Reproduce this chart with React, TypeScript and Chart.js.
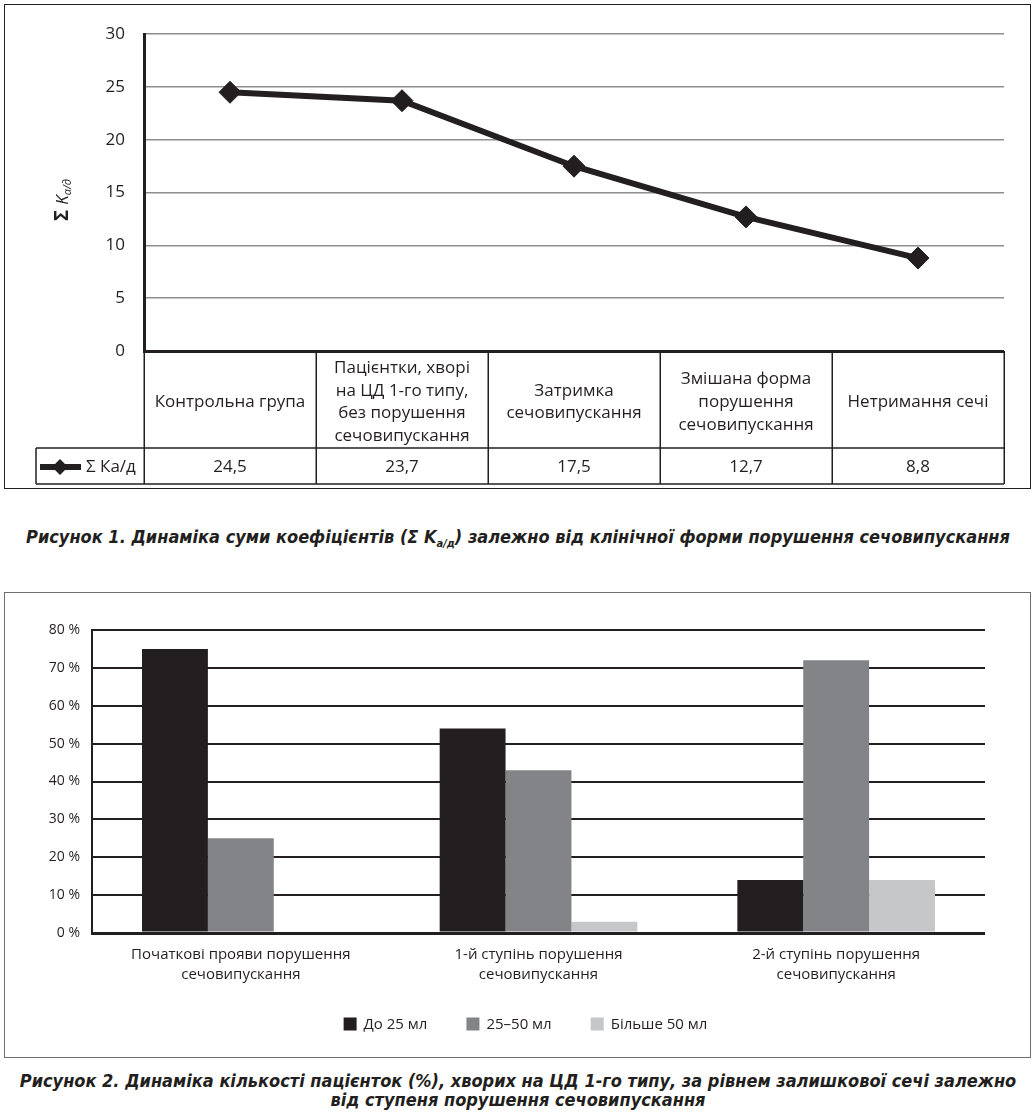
import React, { useEffect, useRef } from "react";
import { Chart, registerables } from "chart.js";

Chart.register(...registerables);

// ---------- Figure 1 data ----------
const categories1: string[][] = [
  ["Контрольна група"],
  ["Пацієнтки, хворі", "на ЦД 1-го типу,", "без порушення", "сечовипускання"],
  ["Затримка", "сечовипускання"],
  ["Змішана форма", "порушення", "сечовипускання"],
  ["Нетримання сечі"],
];
const sumKad: number[] = [24.5, 23.7, 17.5, 12.7, 8.8];
const series1Label = "Σ Ка/д";
const yMax1 = 30;
const yStep1 = 5;

// ---------- Figure 2 data ----------
const categories2: string[][] = [
  ["Початкові прояви порушення", "сечовипускання"],
  ["1-й ступінь порушення", "сечовипускання"],
  ["2-й ступінь порушення", "сечовипускання"],
];
const upTo25: number[] = [75, 54, 14];
const from25to50: number[] = [25, 43, 72];
const over50: number[] = [0, 3, 14];
const series2Labels: string[] = ["До 25 мл", "25–50 мл", "Більше 50 мл"];
const yMax2 = 80;
const yStep2 = 10;

const DARK = "#231f20";
const MID = "#838487";
const LIGHT = "#c6c7c8";
const FONT = "'Open Sans', 'Noto Sans', sans-serif";
const CAPTION_FONT = "'DejaVu Sans Condensed', 'Liberation Sans', Arial, sans-serif";

const fmt = (v: number) => String(v).replace(".", ",");

function Figure1() {
  const ref = useRef<HTMLCanvasElement | null>(null);
  useEffect(() => {
    if (!ref.current) return;
    const tablePlugin = {
      id: "table1",
      afterDraw(chart: any) {
        const ctx = chart.ctx as CanvasRenderingContext2D;
        const area = chart.chartArea;
        const xs = chart.scales.x;
        const n = categories1.length;
        const colW = (area.right - area.left) / n;
        const rowTop = area.bottom;
        const rowMid = rowTop + 97;
        const rowBottom = rowMid + 36;
        const legendLeft = 31;
        ctx.save();
        ctx.strokeStyle = DARK;
        ctx.lineWidth = 1.5;
        ctx.beginPath();
        for (let i = 0; i <= n; i++) {
          const x = Math.round(area.left + i * colW) + 0.25;
          ctx.moveTo(x, rowTop);
          ctx.lineTo(x, rowBottom);
        }
        ctx.moveTo(legendLeft, rowMid);
        ctx.lineTo(area.right, rowMid);
        ctx.moveTo(legendLeft, rowBottom);
        ctx.lineTo(area.right, rowBottom);
        ctx.moveTo(legendLeft, rowMid);
        ctx.lineTo(legendLeft, rowBottom);
        ctx.stroke();

        // values row
        ctx.fillStyle = DARK;
        ctx.font = `17px ${FONT}`;
        ctx.textAlign = "center";
        ctx.textBaseline = "middle";
        const cy = (rowMid + rowBottom) / 2 + 1;
        sumKad.forEach((v, i) => {
          ctx.fillText(fmt(v), xs.getPixelForValue(i), cy);
        });

        // legend key
        ctx.lineWidth = 6;
        ctx.beginPath();
        ctx.moveTo(legendLeft + 4, cy);
        ctx.lineTo(legendLeft + 45, cy);
        ctx.stroke();
        const dx = legendLeft + 24;
        const r = 8;
        ctx.beginPath();
        ctx.moveTo(dx - r, cy);
        ctx.lineTo(dx, cy - r);
        ctx.lineTo(dx + r, cy);
        ctx.lineTo(dx, cy + r);
        ctx.closePath();
        ctx.fill();
        ctx.textAlign = "left";
        ctx.fillText(series1Label, legendLeft + 50, cy);

        // y axis title: Σ K a/д (rotated)
        ctx.translate(57, 195);
        ctx.rotate(-Math.PI / 2);
        ctx.textBaseline = "alphabetic";
        const p1 = "Σ ";
        const p2 = "K";
        const p3 = "а/д";
        ctx.font = `bold 19px ${FONT}`;
        const w1 = ctx.measureText(p1).width;
        ctx.font = `italic 17px ${FONT}`;
        const w2 = ctx.measureText(p2).width;
        ctx.font = `italic 11px ${FONT}`;
        const w3 = ctx.measureText(p3).width;
        let x0 = -(w1 + w2 + w3) / 2;
        ctx.font = `bold 19px ${FONT}`;
        ctx.fillText(p1, x0, 6);
        x0 += w1;
        ctx.font = `italic 17px ${FONT}`;
        ctx.fillText(p2, x0, 6);
        x0 += w2;
        ctx.font = `italic 11px ${FONT}`;
        ctx.fillText(p3, x0, 9);
        ctx.restore();
      },
    };

    const chart = new Chart(ref.current, {
      type: "line",
      data: {
        labels: categories1 as any,
        datasets: [
          {
            label: series1Label,
            data: sumKad,
            borderColor: DARK,
            backgroundColor: DARK,
            borderWidth: 6,
            pointStyle: "rectRot",
            pointRadius: 11,
            pointBackgroundColor: DARK,
            pointBorderColor: DARK,
            pointBorderWidth: 1,
            tension: 0,
          },
        ],
      },
      options: {
        animation: false,
        responsive: false,
        events: [],
        layout: { padding: { top: 28, right: 25, left: 0, bottom: 0 } },
        plugins: { legend: { display: false }, tooltip: { enabled: false } },
        scales: {
          x: {
            offset: true,
            grid: { display: false, drawTicks: false },
            border: { display: false },
            ticks: {
              color: DARK,
              font: { family: FONT, size: 17, lineHeight: 1.34 },
              padding: 17,
              maxRotation: 0,
              autoSkip: false,
              crossAlign: "center",
            },
            afterFit: (s: any) => {
              s.height = 136;
            },
          },
          y: {
            min: 0,
            max: yMax1,
            ticks: {
              stepSize: yStep1,
              padding: 19,
              color: DARK,
              font: { family: FONT, size: 17 },
            },
            grid: {
              drawTicks: false,
              color: (c: any) => (c.tick && c.tick.value === 0 ? DARK : "#8e8e8e"),
              lineWidth: (c: any) => (c.tick && c.tick.value === 0 ? 3 : 1.5),
            },
            border: { color: DARK, width: 3 },
            afterFit: (s: any) => {
              s.width = 139;
            },
          },
        },
      },
      plugins: [tablePlugin],
    } as any);
    return () => chart.destroy();
  }, []);
  return (
    <canvas
      ref={ref}
      width={1024}
      height={482}
      style={{ position: "absolute", left: 5, top: 5, width: 1024, height: 482 }}
    />
  );
}

function Figure2() {
  const ref = useRef<HTMLCanvasElement | null>(null);
  useEffect(() => {
    if (!ref.current) return;
    // legend row drawn from the chart's own datasets (labels + colours)
    const legendPlugin = {
      id: "legendRow2",
      afterDraw(chart: any) {
        const ctx = chart.ctx as CanvasRenderingContext2D;
        const box = 13;
        const gapText = 7;
        const gapItem = 39;
        const cy = 431;
        const centerX = 520.5;
        ctx.save();
        ctx.font = `15px ${FONT}`;
        ctx.textBaseline = "middle";
        ctx.textAlign = "left";
        const ds = chart.data.datasets;
        const widths = ds.map((d: any) => box + gapText + ctx.measureText(d.label).width);
        const total = widths.reduce((a: number, b: number) => a + b, 0) + gapItem * (ds.length - 1);
        let x = centerX - total / 2;
        ds.forEach((d: any, i: number) => {
          ctx.fillStyle = d.backgroundColor;
          ctx.fillRect(x, cy - box / 2, box, box);
          ctx.fillStyle = DARK;
          ctx.fillText(d.label, x + box + gapText, cy + 1);
          x += widths[i] + gapItem;
        });
        ctx.restore();
      },
    };
    const chart = new Chart(ref.current, {
      type: "bar",
      data: {
        labels: categories2 as any,
        datasets: [
          { label: series2Labels[0], data: upTo25, backgroundColor: DARK },
          { label: series2Labels[1], data: from25to50, backgroundColor: MID },
          { label: series2Labels[2], data: over50, backgroundColor: LIGHT },
        ],
      },
      options: {
        animation: false,
        responsive: false,
        events: [],
        datasets: { bar: { barPercentage: 1, categoryPercentage: 0.664 } },
        layout: { padding: { top: 37, right: 44, left: 16, bottom: 0 } },
        plugins: {
          tooltip: { enabled: false },
          legend: { display: false },
        },
        scales: {
          x: {
            grid: { display: false, drawTicks: false },
            border: { display: false },
            ticks: {
              color: DARK,
              font: { family: FONT, size: 15, lineHeight: 1.33 },
              padding: 12,
              maxRotation: 0,
              autoSkip: false,
            },
            afterFit: (s: any) => {
              s.height = 123;
            },
          },
          y: {
            min: 0,
            max: yMax2,
            ticks: {
              stepSize: yStep2,
              padding: 12,
              color: DARK,
              font: { family: FONT, size: 14 },
              callback: (v: any) => `${v} %`,
            },
            grid: {
              drawTicks: false,
              color: DARK,
              lineWidth: (c: any) => (c.tick && c.tick.value === 0 ? 3 : 2),
            },
            border: { color: DARK, width: 2 },
            afterFit: (s: any) => {
              s.width = 71;
            },
          },
        },
      },
      plugins: [legendPlugin],
    } as any);
    return () => chart.destroy();
  }, []);
  return (
    <canvas
      ref={ref}
      width={1024}
      height={463}
      style={{ position: "absolute", left: 5, top: 593, width: 1024, height: 463 }}
    />
  );
}

export default function App() {
  const captionStyle: React.CSSProperties = {
    position: "absolute",
    left: 0,
    width: 1036,
    textAlign: "center",
    fontFamily: CAPTION_FONT,
    fontWeight: "bold",
    fontStyle: "italic",
    fontSize: 18,
    lineHeight: "19px",
    color: DARK,
    whiteSpace: "nowrap",
  };
  return (
    <div
      style={{
        position: "absolute",
        left: 0,
        top: 0,
        width: 1036,
        height: 1113,
        background: "#fff",
        overflow: "hidden",
      }}
    >
      <div
        style={{
          position: "absolute",
          left: 4,
          top: 4,
          width: 1027,
          height: 485,
          boxSizing: "border-box",
          border: `1.5px solid ${DARK}`,
        }}
      />
      <Figure1 />
      <div style={{ ...captionStyle, top: 527 }}>
        Рисунок 1. Динаміка суми коефіцієнтів (Σ K
        <sub style={{ fontSize: 11, verticalAlign: "-4px" }}>а/д</sub>) залежно від клінічної форми порушення
        сечовипускання
      </div>
      <div
        style={{
          position: "absolute",
          left: 4,
          top: 592,
          width: 1027,
          height: 466,
          boxSizing: "border-box",
          border: "1.5px solid #6e6e6e",
        }}
      />
      <Figure2 />
      <div style={{ ...captionStyle, top: 1071 }}>
        Рисунок 2. Динаміка кількості пацієнток (%), хворих на ЦД 1-го типу, за рівнем залишкової сечі залежно
        <br />
        від ступеня порушення сечовипускання
      </div>
    </div>
  );
}
